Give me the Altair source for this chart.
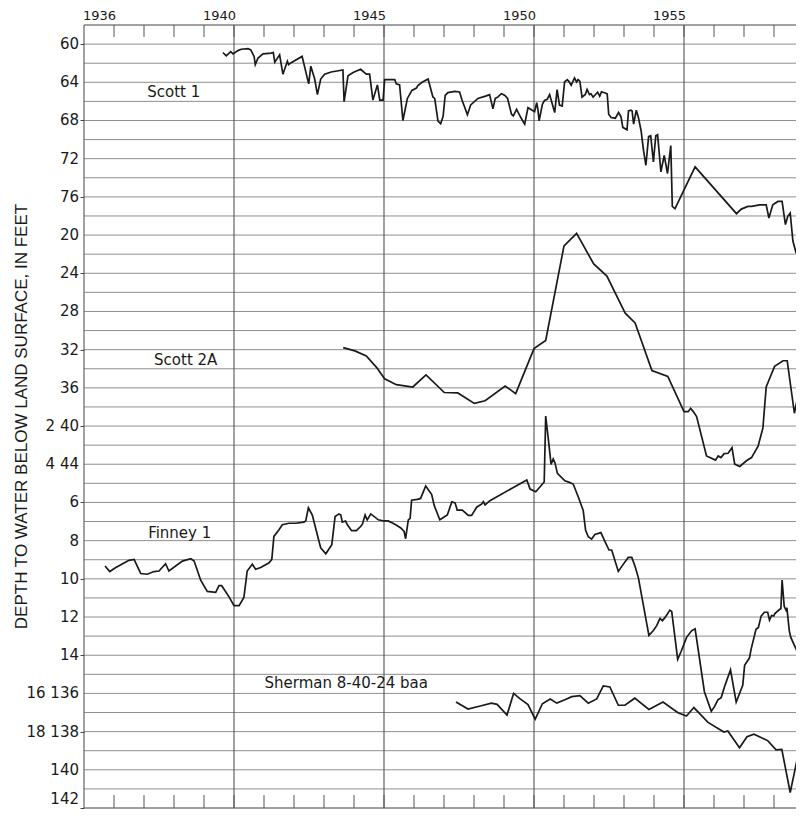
import altair as alt
import pandas as pd

# ---------------- data (decimal year, depth to water in feet) ----------------
scott1 = [
    (1940.63, 60.88), (1940.74, 61.22), (1940.89, 60.78), (1940.97, 61.02), (1941.13, 60.68),
    (1941.24, 60.54), (1941.47, 60.47), (1941.56, 60.61), (1941.67, 61.29), (1941.71, 62.14),
    (1941.80, 61.46), (1941.97, 61.02), (1942.24, 60.95), (1942.31, 60.88), (1942.36, 61.90),
    (1942.47, 61.36), (1942.52, 61.12), (1942.63, 63.15), (1942.78, 61.80), (1942.82, 62.14),
    (1942.89, 61.97), (1943.27, 61.29), (1943.49, 64.17), (1943.56, 62.31), (1943.69, 63.66),
    (1943.78, 65.29), (1943.89, 63.66), (1944.02, 63.15), (1944.24, 62.92), (1944.63, 62.71),
    (1944.67, 66.03), (1944.80, 63.32), (1944.97, 62.98), (1945.22, 62.64), (1945.41, 63.15),
    (1945.52, 63.15), (1945.63, 65.86), (1945.78, 64.27), (1945.86, 65.86), (1945.97, 65.86),
    (1946.02, 63.73), (1946.36, 63.73), (1946.41, 64.17), (1946.52, 64.27), (1946.63, 68.00),
    (1946.78, 65.69), (1946.93, 64.85), (1947.08, 64.61), (1947.13, 64.34), (1947.27, 64.00),
    (1947.47, 63.66), (1947.63, 65.53), (1947.69, 65.69), (1947.80, 68.07), (1947.89, 68.34),
    (1947.97, 67.56), (1948.04, 65.36), (1948.13, 65.08), (1948.36, 64.95), (1948.52, 65.02),
    (1948.60, 65.86), (1948.78, 67.39), (1948.89, 66.37), (1949.13, 65.69), (1949.41, 65.42),
    (1949.52, 65.29), (1949.63, 66.78), (1949.71, 65.69), (1949.80, 65.53), (1949.91, 65.19),
    (1950.02, 65.36), (1950.12, 65.69), (1950.25, 67.34), (1950.31, 67.52), (1950.42, 66.83),
    (1950.56, 67.69), (1950.69, 68.38), (1950.80, 66.66), (1950.94, 66.93), (1951.02, 67.07),
    (1951.09, 66.14), (1951.13, 66.83), (1951.17, 68.03), (1951.28, 66.31), (1951.35, 65.90),
    (1951.44, 65.79), (1951.52, 65.28), (1951.69, 67.17), (1951.77, 64.76), (1951.85, 66.38),
    (1951.94, 66.48), (1952.02, 63.97), (1952.11, 63.72), (1952.16, 63.90), (1952.24, 64.31),
    (1952.35, 63.55), (1952.42, 63.97), (1952.47, 63.72), (1952.53, 63.90), (1952.60, 65.55),
    (1952.71, 65.28), (1952.77, 64.76), (1952.85, 65.28), (1952.90, 65.21), (1952.97, 65.55),
    (1953.05, 65.28), (1953.12, 65.03), (1953.19, 65.45), (1953.25, 65.00), (1953.35, 65.10),
    (1953.44, 65.21), (1953.49, 67.34), (1953.57, 67.69), (1953.71, 67.76), (1953.82, 67.17),
    (1953.90, 67.62), (1953.96, 68.72), (1954.10, 68.97), (1954.15, 67.00), (1954.23, 66.93),
    (1954.27, 67.00), (1954.32, 68.38), (1954.41, 66.93), (1954.48, 67.69), (1954.57, 69.07),
    (1954.65, 71.14), (1954.73, 72.69), (1954.82, 69.69), (1954.89, 69.59), (1954.98, 72.34),
    (1955.06, 69.59), (1955.12, 69.48), (1955.23, 73.38), (1955.34, 71.66), (1955.45, 73.55),
    (1955.56, 70.62), (1955.61, 77.00), (1955.70, 77.24), (1956.37, 72.86), (1957.75, 77.76),
    (1957.91, 77.28), (1958.13, 77.00), (1958.25, 77.00), (1958.52, 76.83), (1958.74, 76.83),
    (1958.83, 78.21), (1958.96, 76.83), (1959.13, 76.48), (1959.27, 76.48), (1959.38, 78.90),
    (1959.46, 78.03), (1959.54, 77.69), (1959.63, 80.62), (1959.74, 81.90), (1959.85, 78.90),
    (1959.92, 78.72),
]

scott2a = [
    (1944.64, 31.79), (1945.03, 32.13), (1945.41, 32.65), (1945.75, 33.85), (1946.02, 35.05),
    (1946.41, 35.67), (1946.96, 35.91), (1947.40, 34.64), (1948.01, 36.49), (1948.46, 36.53),
    (1949.01, 37.63), (1949.37, 37.35), (1950.04, 35.81), (1950.39, 36.60), (1951.00, 31.89),
    (1951.39, 31.03), (1952.00, 21.13), (1952.42, 19.83), (1952.99, 23.02), (1953.43, 24.30),
    (1954.04, 28.18), (1954.37, 29.21), (1954.93, 34.19), (1955.46, 34.81), (1956.00, 38.49),
    (1956.14, 38.49), (1956.22, 38.14), (1956.31, 38.49), (1956.42, 39.00), (1956.75, 43.13),
    (1957.05, 43.57), (1957.14, 43.13), (1957.23, 43.30), (1957.34, 42.89), (1957.47, 42.85),
    (1957.60, 42.27), (1957.69, 43.99), (1957.86, 44.23), (1958.08, 43.64), (1958.25, 43.30),
    (1958.47, 42.10), (1958.63, 40.21), (1958.74, 35.91), (1958.85, 35.05), (1959.02, 33.75),
    (1959.30, 33.16), (1959.44, 33.16), (1959.68, 38.66), (1959.79, 36.94), (1959.92, 36.43),
]

finney1 = [
    (1936.70, 9.33), (1936.86, 9.62), (1937.06, 9.41), (1937.50, 9.03), (1937.67, 8.98),
    (1937.89, 9.72), (1938.11, 9.76), (1938.33, 9.62), (1938.50, 9.59), (1938.72, 9.21),
    (1938.83, 9.59), (1939.28, 9.07), (1939.56, 8.95), (1939.67, 9.07), (1939.89, 10.07),
    (1940.11, 10.66), (1940.39, 10.71), (1940.50, 10.36), (1940.59, 10.36), (1940.83, 10.93),
    (1941.00, 11.40), (1941.17, 11.40), (1941.33, 10.97), (1941.44, 9.59), (1941.61, 9.24),
    (1941.72, 9.50), (1941.89, 9.41), (1942.17, 9.16), (1942.26, 8.98), (1942.33, 7.78),
    (1942.50, 7.43), (1942.61, 7.17), (1942.83, 7.09), (1943.06, 7.09), (1943.33, 7.03),
    (1943.39, 6.97), (1943.48, 6.28), (1943.61, 6.66), (1943.72, 7.34), (1943.89, 8.38),
    (1944.06, 8.69), (1944.26, 8.21), (1944.37, 6.74), (1944.50, 6.60), (1944.56, 6.66),
    (1944.61, 7.03), (1944.72, 6.97), (1944.78, 7.17), (1944.92, 7.48), (1945.08, 7.48),
    (1945.22, 7.26), (1945.28, 7.14), (1945.37, 6.66), (1945.44, 6.91), (1945.56, 6.60),
    (1945.81, 6.91), (1946.00, 6.97), (1946.14, 6.97), (1946.22, 7.03), (1946.39, 7.17),
    (1946.56, 7.34), (1946.67, 7.52), (1946.72, 7.90), (1946.81, 6.91), (1946.87, 6.83),
    (1946.92, 5.88), (1947.11, 5.84), (1947.22, 5.79), (1947.39, 5.14), (1947.59, 5.59),
    (1947.67, 6.14), (1947.86, 6.91), (1947.94, 6.83), (1948.11, 6.66), (1948.26, 5.97),
    (1948.37, 6.02), (1948.44, 6.40), (1948.61, 6.40), (1948.81, 6.68), (1948.92, 6.68),
    (1949.09, 6.25), (1949.26, 6.08), (1949.31, 5.96), (1949.37, 6.13), (1949.53, 5.91),
    (1950.76, 4.82), (1950.87, 5.30), (1951.06, 5.44), (1951.34, 4.93), (1951.39, 1.48),
    (1951.48, 2.72), (1951.57, 4.01), (1951.64, 3.72), (1951.70, 3.93), (1951.78, 4.48),
    (1952.03, 4.87), (1952.20, 4.96), (1952.31, 5.05), (1952.48, 5.73), (1952.64, 6.42),
    (1952.72, 7.46), (1952.81, 7.80), (1952.92, 7.92), (1953.03, 7.68), (1953.23, 7.58),
    (1953.37, 8.06), (1953.50, 8.49), (1953.59, 8.49), (1953.81, 9.61), (1953.98, 9.23),
    (1954.14, 8.88), (1954.26, 8.88), (1954.37, 9.35), (1954.48, 9.95), (1954.83, 12.96),
    (1954.98, 12.71), (1955.09, 12.45), (1955.20, 12.07), (1955.28, 12.19), (1955.37, 12.02),
    (1955.53, 11.64), (1955.59, 11.71), (1955.79, 14.22), (1955.90, 13.82), (1956.09, 13.05),
    (1956.26, 12.71), (1956.37, 12.62), (1956.68, 15.91), (1956.91, 16.94), (1957.02, 16.68),
    (1957.13, 16.34), (1957.24, 16.22), (1957.35, 15.65), (1957.55, 14.77), (1957.74, 16.46),
    (1957.96, 15.56), (1958.02, 14.53), (1958.18, 14.15), (1958.24, 13.67), (1958.40, 12.64),
    (1958.48, 12.55), (1958.57, 11.95), (1958.68, 11.75), (1958.79, 11.75), (1958.85, 12.16),
    (1958.92, 11.92), (1958.99, 11.95), (1959.03, 11.82), (1959.18, 11.61), (1959.23, 11.57),
    (1959.27, 10.06), (1959.34, 11.44), (1959.40, 11.64), (1959.43, 11.52), (1959.51, 12.73),
    (1959.56, 13.07), (1959.76, 13.76), (1959.84, 13.33), (1959.92, 13.07),
]

sherman = [
    (1948.40, 136.45), (1948.80, 136.82), (1949.21, 136.66), (1949.58, 136.51), (1949.77, 136.57),
    (1950.10, 137.13), (1950.32, 136.00), (1950.54, 136.29), (1950.80, 136.59), (1951.04, 137.35),
    (1951.28, 136.54), (1951.54, 136.29), (1951.76, 136.51), (1952.01, 136.34), (1952.26, 136.17),
    (1952.53, 136.12), (1952.81, 136.51), (1953.09, 136.29), (1953.31, 135.61), (1953.53, 135.66),
    (1953.81, 136.62), (1954.03, 136.62), (1954.36, 136.25), (1954.83, 136.84), (1955.30, 136.45),
    (1955.80, 137.01), (1956.08, 137.18), (1956.33, 136.74), (1956.80, 137.52), (1957.33, 138.02),
    (1957.46, 137.97), (1957.85, 138.85), (1958.10, 138.27), (1958.33, 138.14), (1958.79, 138.47),
    (1959.07, 138.95), (1959.26, 138.93), (1959.54, 141.19), (1959.79, 139.32),
]

# well names, label anchor (year, depth in the well's own units)
well_names = ["Scott 1", "Scott 2A", "Finney 1", "Sherman 8-40-24 baa"]
label_years = [1938.99, 1939.39, 1939.19, 1944.74]
label_depths = [65.0, 33.1, 7.6, 135.47]

# tick labels (one per two grid rows, top to bottom)
year_labels = [1936, 1940, 1945, 1950, 1955]
y_tick_labels = ["60", "64", "68", "72", "76", "20", "24", "28", "32", "36",
                 "2 40", "4 44", "6", "8", "10", "12", "14", "16 136", "18 138", "140", "142"]
five_year_lines = [1941, 1946, 1951, 1956]


# each well is drawn on its own offset depth scale; g = grid-row position
def to_row(name, d):
    if name == "Scott 1":
        return (d - 60) / 2
    if name == "Scott 2A":
        return 10 + (d - 20) / 2
    if name == "Finney 1":
        return d + 18
    return d - 102


series = {"Scott 1": scott1, "Scott 2A": scott2a, "Finney 1": finney1,
          "Sherman 8-40-24 baa": sherman}
rows = []
for name, pts in series.items():
    for yr, d in pts:
        rows.append({"well": name, "year": yr, "depth": d, "g": to_row(name, d)})
df = pd.DataFrame(rows)

lab_df = pd.DataFrame({
    "label": well_names,
    "year": label_years,
    "g": [to_row(n, d) for n, d in zip(well_names, label_depths)],
})

ytick_df = pd.DataFrame({"g": [2 * i for i in range(len(y_tick_labels))],
                         "label": y_tick_labels})
ytick_main = ytick_df[ytick_df["g"] < 40]
ytick_last = ytick_df[ytick_df["g"] >= 40]

W = 712
H = 783
FONT = "DejaVu Sans"
INK = "#1a1a1a"

x_scale = alt.Scale(domain=[1936, 1936 + W / 30.0], nice=False, zero=False)
y_scale = alt.Scale(domain=[-1, 40], reverse=True, nice=False, zero=False)

x_axis = alt.Axis(orient="top", values=[y + 0.5 for y in year_labels],
                  labelExpr="'' + floor(datum.value)", ticks=False,
                  domain=False, grid=False, title=None, labelFontSize=13,
                  labelFont=FONT, labelColor=INK, labelPadding=3,
                  labelOverlap=False)
y_axis = alt.Axis(values=list(range(0, 41, 2)), labels=False,
                  domain=False, grid=False, tickSize=4, tickColor="#444444",
                  title="DEPTH TO WATER BELOW LAND SURFACE, IN FEET",
                  titleFont="Liberation Sans", titleFontSize=17,
                  titleFontWeight="normal", titleColor=INK,
                  titleAngle=270, titleX=-63, titleY=391,
                  titleAlign="center", titleBaseline="middle")

lines = alt.Chart(df).mark_line(color=INK, strokeWidth=1.7, clip=True).encode(
    x=alt.X("year:Q", scale=x_scale, axis=x_axis),
    y=alt.Y("g:Q", scale=y_scale, axis=y_axis),
    detail="well:N",
)

hgrid = alt.Chart(pd.DataFrame({"g": list(range(0, 40))})).mark_rule(
    color="#8f8f8f", strokeWidth=1
).encode(y=alt.Y("g:Q"))

hframe = alt.Chart(pd.DataFrame({"g": [-1, 40]})).mark_rule(
    color="#444444", strokeWidth=1.2
).encode(y=alt.Y("g:Q"))

vlines = alt.Chart(pd.DataFrame({"year": [1936] + five_year_lines})).mark_rule(
    color="#555555", strokeWidth=1.1
).encode(x=alt.X("year:Q"))

tick_years = pd.DataFrame({"year": list(range(1937, 1960))})
top_ticks = alt.Chart(tick_years).mark_rule(color="#555555", strokeWidth=1).encode(
    x=alt.X("year:Q"), y=alt.value(0), y2=alt.value(12)
)
bottom_ticks = alt.Chart(tick_years).mark_rule(color="#555555", strokeWidth=1).encode(
    x=alt.X("year:Q"), y=alt.value(H - 13), y2=alt.value(H)
)

ylab_main = alt.Chart(ytick_main).mark_text(
    font=FONT, fontSize=15, color=INK, align="right", baseline="middle"
).encode(x=alt.value(-5), y=alt.Y("g:Q"), text="label:N")
ylab_last = alt.Chart(ytick_last).mark_text(
    font=FONT, fontSize=15, color=INK, align="right", baseline="bottom", dy=-1
).encode(x=alt.value(-5), y=alt.Y("g:Q"), text="label:N")

labels = alt.Chart(lab_df).mark_text(
    font=FONT, fontSize=15, color=INK, align="center", baseline="middle"
).encode(
    x=alt.X("year:Q"),
    y=alt.Y("g:Q"),
    text="label:N",
)

chart = alt.layer(hgrid, hframe, vlines, top_ticks, bottom_ticks, lines,
                  ylab_main, ylab_last, labels).properties(
    width=W, height=H,
    padding={"left": 76, "top": 17, "right": 0, "bottom": 1},
    autosize=alt.AutoSizeParams(type="none"),
    background="white",
).configure_view(stroke=None)

chart.save("out.html", embed_options={"renderer": "svg", "actions": False})
